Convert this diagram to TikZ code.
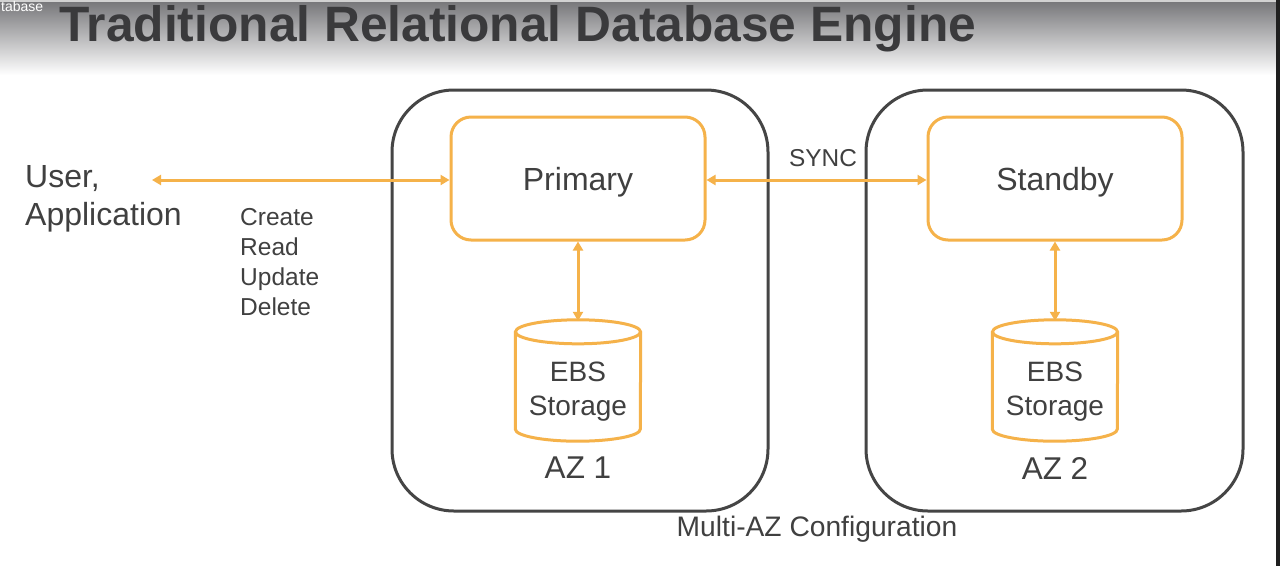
\documentclass[tikz,border=0pt]{standalone}
\usepackage{fontspec}
\setmainfont{Liberation Sans}
\usetikzlibrary{arrows.meta,calc}
\definecolor{txt}{HTML}{404040}
\definecolor{org}{HTML}{F5B24A}
\definecolor{azline}{HTML}{454545}
\begin{document}
\begin{tikzpicture}[x=1pt,y=-1pt,
  az/.style={draw=azline,line width=3pt,rounded corners=62pt},
  inst/.style={draw=org,line width=3pt,rounded corners=20pt,minimum width=254pt,minimum height=123pt},
  conn/.style={draw=org,line width=3pt,{Triangle[length=9pt,width=10pt]}-{Triangle[length=9pt,width=10pt]}},
  lbl/.style={text=txt,inner sep=0pt},
  big/.style={lbl,font=\fontsize{32}{36}\selectfont},
  cyl/.style={draw=none,minimum width=125pt,minimum height=121pt}
]
\useasboundingbox (0,0) rectangle (1280,566);
\fill[white] (0,0) rectangle (1280,566);
\shade[top color={rgb,255:red,120;green,120;blue,123},bottom color=white] (0,2) rectangle (1280,75);
\fill[gray!35] (0,0) rectangle (1280,2);
\fill[black!88] (1276,0) rectangle (1280,566);
\node[anchor=north west,text=white,inner sep=0pt,font=\fontsize{14}{16}\selectfont] (tab) at (1,1) {tabase};
\node[lbl,anchor=west,font=\bfseries\fontsize{49.7}{56}\selectfont,text={rgb,255:red,58;green,58;blue,60}] (title) at (59,29) {Traditional Relational Database Engine};

% AZ boxes
\draw[az] (392,90) rectangle (768,511);
\draw[az] (866,90) rectangle (1243,511);

% instances
\node[inst] (primary) at (578,178.5) {};
\node[big] (primaryt) at (578,182) {Primary};
\node[inst] (standby) at (1055,178.5) {};
\node[big] (standbyt) at (1055,182) {Standby};

% cylinders
\foreach \n/\cx in {ebs1/578,ebs2/1055}{
  \node[cyl] (\n) at (\cx,380.5) {};
  \node[lbl,align=center,font=\fontsize{28}{34}\selectfont] (\n t) at (\cx,392) {EBS\\Storage};
  \draw[org,line width=3pt] ($(\n.north west)+(0,12)$)
     -- ($(\n.south west)+(0,-12)$) arc[start angle=180,end angle=360,x radius=62.5pt,y radius=12pt]
     -- ($(\n.north east)+(0,12)$);
  \draw[org,line width=3pt] ($(\n.north)+(0,12)$) ellipse[x radius=62.5pt,y radius=12pt];
}

% labels
\node[lbl,anchor=west,align=left,font=\fontsize{32}{38}\selectfont] (user) at (25,199) {User,\\Application};
\node[lbl,anchor=west,align=left,font=\fontsize{24.5}{30}\selectfont] (crud) at (240,262) {Create\\Read\\Update\\Delete};
\node[lbl,font=\fontsize{24.4}{28}\selectfont] (sync) at (823,158) {SYNC};
\node[lbl,font=\fontsize{31.5}{36}\selectfont] (az1) at (578,468) {AZ 1};
\node[lbl,font=\fontsize{31.5}{36}\selectfont] (az2) at (1055,468) {AZ 2};
\node[lbl,font=\fontsize{28.2}{32}\selectfont] (multi) at (817,529) {Multi-AZ Configuration};

% connectors
\coordinate (userend) at (152,180);
\draw[conn] (userend) -- (primary.west |- userend);
\draw[conn] (primary.east |- userend) -- (standby.west |- userend);
\draw[conn] (primary.south) -- ($(ebs1.north)+(0,1)$);
\draw[conn] (standby.south) -- ($(ebs2.north)+(0,1)$);
\end{tikzpicture}
\end{document}
